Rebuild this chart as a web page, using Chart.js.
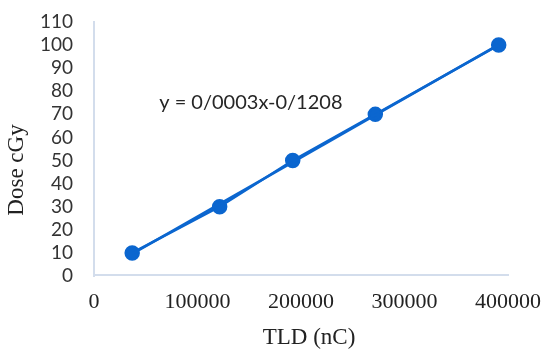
<!DOCTYPE html>
<html>
<head>
<meta charset="utf-8">
<script src="https://cdn.jsdelivr.net/npm/chart.js@4.4.0/dist/chart.umd.min.js"></script>
<style>
  html, body { margin: 0; padding: 0; background: #fff; }
  #wrap { width: 547px; height: 351px; }
</style>
</head>
<body>
<div id="wrap"><canvas id="myChart" width="547" height="351"></canvas></div>
<script>
// valeurs
var tld = [36900, 121400, 192000, 271800, 391000];   // TLD (nC)
var dose = [10, 30, 50, 70, 100];                     // Dose cGy
// extrémités de la droite de tendance
var trendX = [36900, 391000];
var trendY = [9.6, 100.2];
var equation = 'y = 0/0003x-0/1208';

var bleu = '#0b66cf';
var axeCouleur = '#d3ddec';

var points = tld.map(function (x, i) { return { x: x, y: dose[i] }; });
var tendance = trendX.map(function (x, i) { return { x: x, y: trendY[i] }; });

// titres des axes + équation dessinés à la main
var textes = {
    id: 'textes',
    afterDraw: function (chart) {
        var ctx = chart.ctx;
        var xs = chart.scales.x, ys = chart.scales.y;
        ctx.save();
        ctx.fillStyle = '#222';
        ctx.textAlign = 'center';
        ctx.textBaseline = 'middle';
        ctx.font = '23px "Liberation Serif"';
        ctx.fillText('TLD (nC)', 309, 338);
        ctx.translate(17, 170);
        ctx.rotate(-Math.PI / 2);
        ctx.fillText('Dose cGy', 0, 0);
        ctx.restore();

        ctx.save();
        ctx.fillStyle = '#262626';
        ctx.font = '20px Lato';
        ctx.textAlign = 'left';
        ctx.textBaseline = 'middle';
        ctx.fillText(equation, xs.getPixelForValue(63000), ys.getPixelForValue(75));
        ctx.restore();
    }
};

var ctx = document.getElementById('myChart').getContext('2d');
var myChart = new Chart(ctx, {
    type: 'scatter',
    data: {
        datasets: [{
            data: tendance,
            showLine: true,
            borderColor: bleu,
            borderWidth: 2.5,
            pointRadius: 0
        }, {
            data: points,
            showLine: true,
            borderColor: bleu,
            backgroundColor: bleu,
            borderWidth: 2.5,
            pointRadius: 6.5,
            pointHoverRadius: 6.5
        }]
    },
    options: {
        responsive: false,
        animation: false,
        layout: { padding: 0 },
        plugins: { legend: { display: false }, tooltip: { enabled: false } },
        scales: {
            x: {
                type: 'linear',
                min: 0,
                max: 400000,
                afterFit: function (s) { s.height = 76; },
                border: { color: axeCouleur, width: 2 },
                grid: { display: false, drawTicks: false },
                ticks: {
                    stepSize: 100000,
                    padding: 14,
                    color: '#222',
                    font: { family: '"Liberation Serif"', size: 22 },
                    maxRotation: 0,
                    autoSkip: false,
                    callback: function (v) { return String(v); }
                }
            },
            y: {
                min: 0,
                max: 110,
                afterFit: function (s) { s.width = 94; },
                border: { color: axeCouleur, width: 2 },
                grid: { display: false, drawTicks: false },
                ticks: {
                    stepSize: 10,
                    padding: 21,
                    autoSkip: false,
                    color: '#333',
                    font: { family: 'Lato', size: 19 }
                }
            }
        }
    },
    plugins: [textes, {
        id: 'zone',
        // zone de tracé fixée comme sur l'original
        afterLayout: function (chart) {
            var a = chart.chartArea;
            a.left = 94; a.right = 508; a.top = 22; a.bottom = 276;
            chart.scales.x.left = 94; chart.scales.x.right = 508; chart.scales.x.width = 414;
            chart.scales.y.top = 22; chart.scales.y.bottom = 276; chart.scales.y.height = 254;
            chart.scales.x.configure();
            chart.scales.y.configure();
        }
    }]
});
</script>
</body>
</html>
